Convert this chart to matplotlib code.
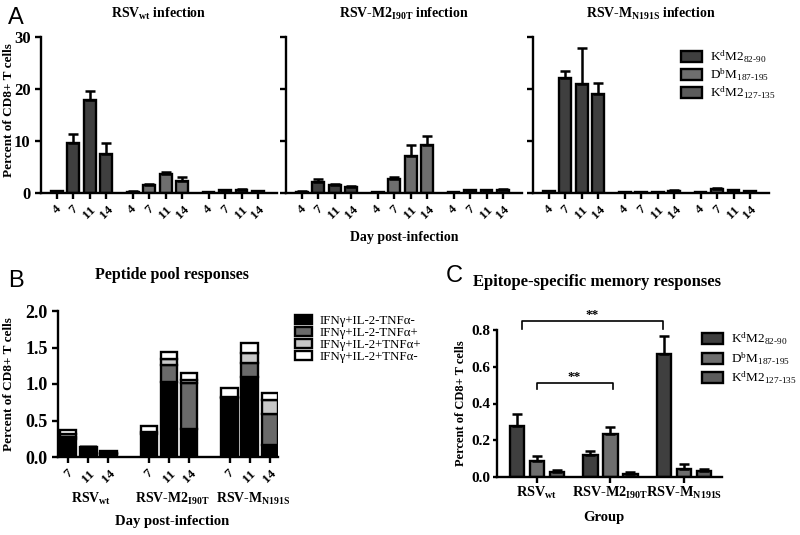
import matplotlib
matplotlib.use("Agg")
import matplotlib.pyplot as plt
from matplotlib.patches import Patch
import numpy as np

plt.rcParams['font.family'] = ['Liberation Serif', 'DejaVu Serif']
plt.rcParams['mathtext.fontset'] = 'custom'
plt.rcParams['mathtext.rm'] = 'Liberation Serif'
plt.rcParams['mathtext.bf'] = 'Liberation Serif:bold'
plt.rcParams['mathtext.it'] = 'Liberation Serif:italic'

# ---------------- data ----------------
days_A = ['4', '7', '11', '14']
epitopes = [r'K$^\mathrm{d}$M2$_{\mathrm{82}\text{-}\mathrm{90}}$',
            r'D$^\mathrm{b}$M$_{\mathrm{187}\text{-}\mathrm{195}}$',
            r'K$^\mathrm{d}$M2$_{\mathrm{127}\text{-}\mathrm{135}}$']
A_titles = [r'RSV$_\mathbf{wt}$ infection',
            r'RSV-M2$_\mathbf{I90T}$ infection',
            r'RSV-M$_\mathbf{N191S}$ infection']
# mean per virus: rows = epitopes, cols = days
A_wt_mean = [[0.3, 9.7, 17.9, 7.5], [0.2, 1.5, 3.6, 2.3], [0.1, 0.5, 0.6, 0.3]]
A_wt_err = [[0.1, 1.7, 1.8, 2.2], [0.1, 0.2, 0.5, 0.7], [0.05, 0.1, 0.1, 0.1]]
A_m2_mean = [[0.2, 2.1, 1.5, 1.1], [0.1, 2.7, 7.2, 9.3], [0.1, 0.5, 0.5, 0.6]]
A_m2_err = [[0.1, 0.5, 0.3, 0.2], [0.05, 0.4, 2.0, 1.6], [0.05, 0.1, 0.1, 0.2]]
A_mn_mean = [[0.3, 22.2, 21.0, 19.1], [0.1, 0.2, 0.2, 0.4], [0.1, 0.7, 0.5, 0.3]]
A_mn_err = [[0.1, 1.3, 6.9, 2.1], [0.05, 0.05, 0.05, 0.1], [0.05, 0.2, 0.1, 0.1]]

days_B = ['7', '11', '14']
groups = [r'RSV$_\mathbf{wt}$', r'RSV-M2$_\mathbf{I90T}$', r'RSV-M$_\mathbf{N191S}$']
cyto_labels = ['IFNγ+IL-2-TNFα-', 'IFNγ+IL-2-TNFα+', 'IFNγ+IL-2+TNFα+', 'IFNγ+IL-2+TNFα-']
B_black = [0.24, 0.14, 0.04, 0.32, 1.03, 0.39, 0.81, 1.09, 0.17]
B_dkgray = [0.03, 0.00, 0.00, 0.00, 0.23, 0.63, 0.00, 0.20, 0.42]
B_ltgray = [0.05, 0.00, 0.01, 0.02, 0.08, 0.04, 0.01, 0.14, 0.19]
B_white = [0.05, 0.00, 0.03, 0.09, 0.10, 0.09, 0.12, 0.13, 0.09]

# rows = epitopes, cols = groups
C_mean = [[0.276, 0.12, 0.67], [0.087, 0.236, 0.042], [0.027, 0.018, 0.033]]
C_err = [[0.065, 0.02, 0.095], [0.028, 0.034, 0.028], [0.01, 0.007, 0.008]]

ep_colors = ['#3f3f3f', '#6e6e6e', '#5c5c5c']
cyto_colors = ['#000000', '#6a6a6a', '#c8c8c8', '#ffffff']

LW = 1.7
fig = plt.figure(figsize=(8, 5.35), dpi=100)
W, H = 800.0, 535.0


def ax_px(l, t, r, b):
    return fig.add_axes([l / W, 1 - b / H, (r - l) / W, (b - t) / H])


def style(ax):
    for s in ['top', 'right']:
        ax.spines[s].set_visible(False)
    for s in ['left', 'bottom']:
        ax.spines[s].set_linewidth(LW)
    ax.tick_params(width=LW, length=4, direction='out')
    for lab in ax.get_yticklabels() + ax.get_xticklabels():
        lab.set_fontweight('bold')


# ---------------- Panel A ----------------
A_means = [A_wt_mean, A_m2_mean, A_mn_mean]
A_errs = [A_wt_err, A_m2_err, A_mn_err]
A_boxes = [(41, 37, 277, 193), (286, 37, 522, 193), (533, 37, 769, 193)]
goff = 4.6
for k in range(3):
    ax = ax_px(*A_boxes[k])
    xs_all, lab_all = [], []
    for g in range(3):
        xs = np.arange(4) + g * goff
        ax.bar(xs, A_means[k][g], width=0.72, color=ep_colors[g], edgecolor='black',
               linewidth=LW, zorder=2)
        ax.errorbar(xs, A_means[k][g], yerr=[np.zeros(4), A_errs[k][g]], fmt='none',
                    ecolor='black', elinewidth=1.8, capsize=3.5, capthick=1.8, zorder=3)
        xs_all += list(xs)
        lab_all += days_A
    ax.set_xlim(-0.95, 13.35)
    ax.set_ylim(0, 30)
    ax.set_yticks([0, 10, 20, 30])
    ax.set_xticks(xs_all)
    ax.set_xticklabels(lab_all, rotation=45, ha='center', fontsize=9.5, fontweight='bold')
    if k == 0:
        ax.set_yticklabels(['0', '10', '20', '30'], fontsize=12)
        ax.set_ylabel('Percent of CD8+ T cells', fontsize=9.5, fontweight='bold')
        ax.yaxis.set_label_coords(-0.11, 0.53)
    else:
        ax.set_yticklabels([])
    style(ax)
    cx = (A_boxes[k][0] + A_boxes[k][2]) / 2
    fig.text(cx / W, 1 - 14 / H, A_titles[k], ha='center', va='center',
             fontsize=10, fontweight='bold')

fig.text(404 / W, 1 - 237 / H, 'Day post-infection', ha='center', va='center',
         fontsize=10, fontweight='bold')

legA = [Patch(facecolor=ep_colors[i], edgecolor='black', linewidth=LW) for i in range(3)]
fig.legend(legA, epitopes, loc='upper left', bbox_to_anchor=(681 / W, 1 - 49 / H),
           frameon=False, fontsize=9.5, handlelength=1.6, handleheight=0.9,
           labelspacing=0.12, handletextpad=0.6, borderaxespad=0, borderpad=0)

# ---------------- Panel B ----------------
axB = ax_px(58, 311, 278, 457)
nb = len(B_black)
xb = np.array([g * 4 + i for g in range(3) for i in range(3)], dtype=float)
bottom = np.zeros(nb)
for vals, col in zip([B_black, B_dkgray, B_ltgray, B_white], cyto_colors):
    axB.bar(xb, vals, bottom=bottom, width=0.82, color=col, edgecolor='black',
            linewidth=LW, zorder=2)
    bottom = bottom + np.array(vals)
axB.set_xlim(-0.5, 10.4)
axB.set_ylim(0, 2.0)
axB.set_yticks([0, 0.5, 1.0, 1.5, 2.0])
axB.set_yticklabels(['0.0', '0.5', '1.0', '1.5', '2.0'], fontsize=13)
axB.set_xticks(xb)
axB.set_xticklabels(days_B * 3, rotation=45, ha='center', fontsize=9.5, fontweight='bold')
axB.set_ylabel('Percent of CD8+ T cells', fontsize=9.5, fontweight='bold')
axB.yaxis.set_label_coords(-0.195, 0.5)
style(axB)
for g in range(3):
    axB.text(g * 4 + 1.15, -0.58, groups[g], transform=axB.transData,
             ha='center', va='center', fontsize=10, fontweight='bold', clip_on=False)
fig.text(172 / W, 1 - 521 / H, 'Day post-infection', ha='center', va='center',
         fontsize=10.5, fontweight='bold')
fig.text(172 / W, 1 - 275 / H, 'Peptide pool responses', ha='center', va='center',
         fontsize=11.5, fontweight='bold')
legB = [Patch(facecolor=c, edgecolor='black', linewidth=LW) for c in cyto_colors]
fig.legend(legB, cyto_labels, loc='upper left', bbox_to_anchor=(295 / W, 1 - 315 / H),
           frameon=False, fontsize=9.3, handlelength=1.3, handleheight=0.65,
           labelspacing=0.0, handletextpad=0.6, borderaxespad=0, borderpad=0)

# ---------------- Panel C ----------------
axC = ax_px(497, 330, 722, 477)
coff = 3.67
for e in range(3):
    xs = np.arange(3) * coff + e
    axC.bar(xs, C_mean[e], width=0.72, color=ep_colors[e], edgecolor='black',
            linewidth=LW, zorder=2)
    axC.errorbar(xs, C_mean[e], yerr=[np.zeros(3), C_err[e]], fmt='none', ecolor='black',
                 elinewidth=1.8, capsize=3.5, capthick=1.8, zorder=3)
axC.set_xlim(-1, 10.25)
axC.set_ylim(0, 0.8)
axC.set_yticks([0, 0.2, 0.4, 0.6, 0.8])
axC.set_yticklabels(['0.0', '0.2', '0.4', '0.6', '0.8'], fontsize=11)
axC.set_xticks(np.arange(3) * coff + 1)
axC.set_xticklabels(groups, fontsize=10.3, fontweight='bold')
axC.set_ylabel('Percent of CD8+ T cells', fontsize=9, fontweight='bold')
axC.yaxis.set_label_coords(-0.135, 0.5)
style(axC)
axC.tick_params(axis='y', length=3, pad=1.5)
axC.tick_params(axis='x', pad=2)
fig.text(604 / W, 1 - 517 / H, 'Group', ha='center', va='center', fontsize=10.5,
         fontweight='bold')
# significance brackets
axC.plot([0.25, 0.25, 7.3, 7.3], [0.805, 0.85, 0.85, 0.805], color='black', lw=1.2, clip_on=False)
axC.text(3.75, 0.88, '**', ha='center', va='center', fontsize=9.5, fontweight='bold')
axC.plot([1.0, 1.0, 4.8, 4.8], [0.478, 0.51, 0.51, 0.478], color='black', lw=1.2, clip_on=False)
axC.text(2.85, 0.545, '**', ha='center', va='center', fontsize=9.5, fontweight='bold')
fig.text(597 / W, 1 - 282 / H, 'Epitope-specific memory responses', ha='center', va='center',
         fontsize=12, fontweight='bold')
legC = [Patch(facecolor=ep_colors[i], edgecolor='black', linewidth=LW) for i in range(3)]
fig.legend(legC, epitopes, loc='upper left', bbox_to_anchor=(702 / W, 1 - 331 / H),
           frameon=False, fontsize=9.5, handlelength=1.6, handleheight=0.9,
           labelspacing=0.22, handletextpad=0.6, borderaxespad=0, borderpad=0)

# panel letters
fig.text(8 / W, 1 - 18 / H, 'A', fontsize=17, family='Liberation Sans', va='center', ha='left')
fig.text(8 / W, 1 - 281 / H, 'B', fontsize=17, family='Liberation Sans', va='center', ha='left')
fig.text(446 / W, 1 - 276 / H, 'C', fontsize=17, family='Liberation Sans', va='center', ha='left')

fig.savefig('out.png', dpi=100)
